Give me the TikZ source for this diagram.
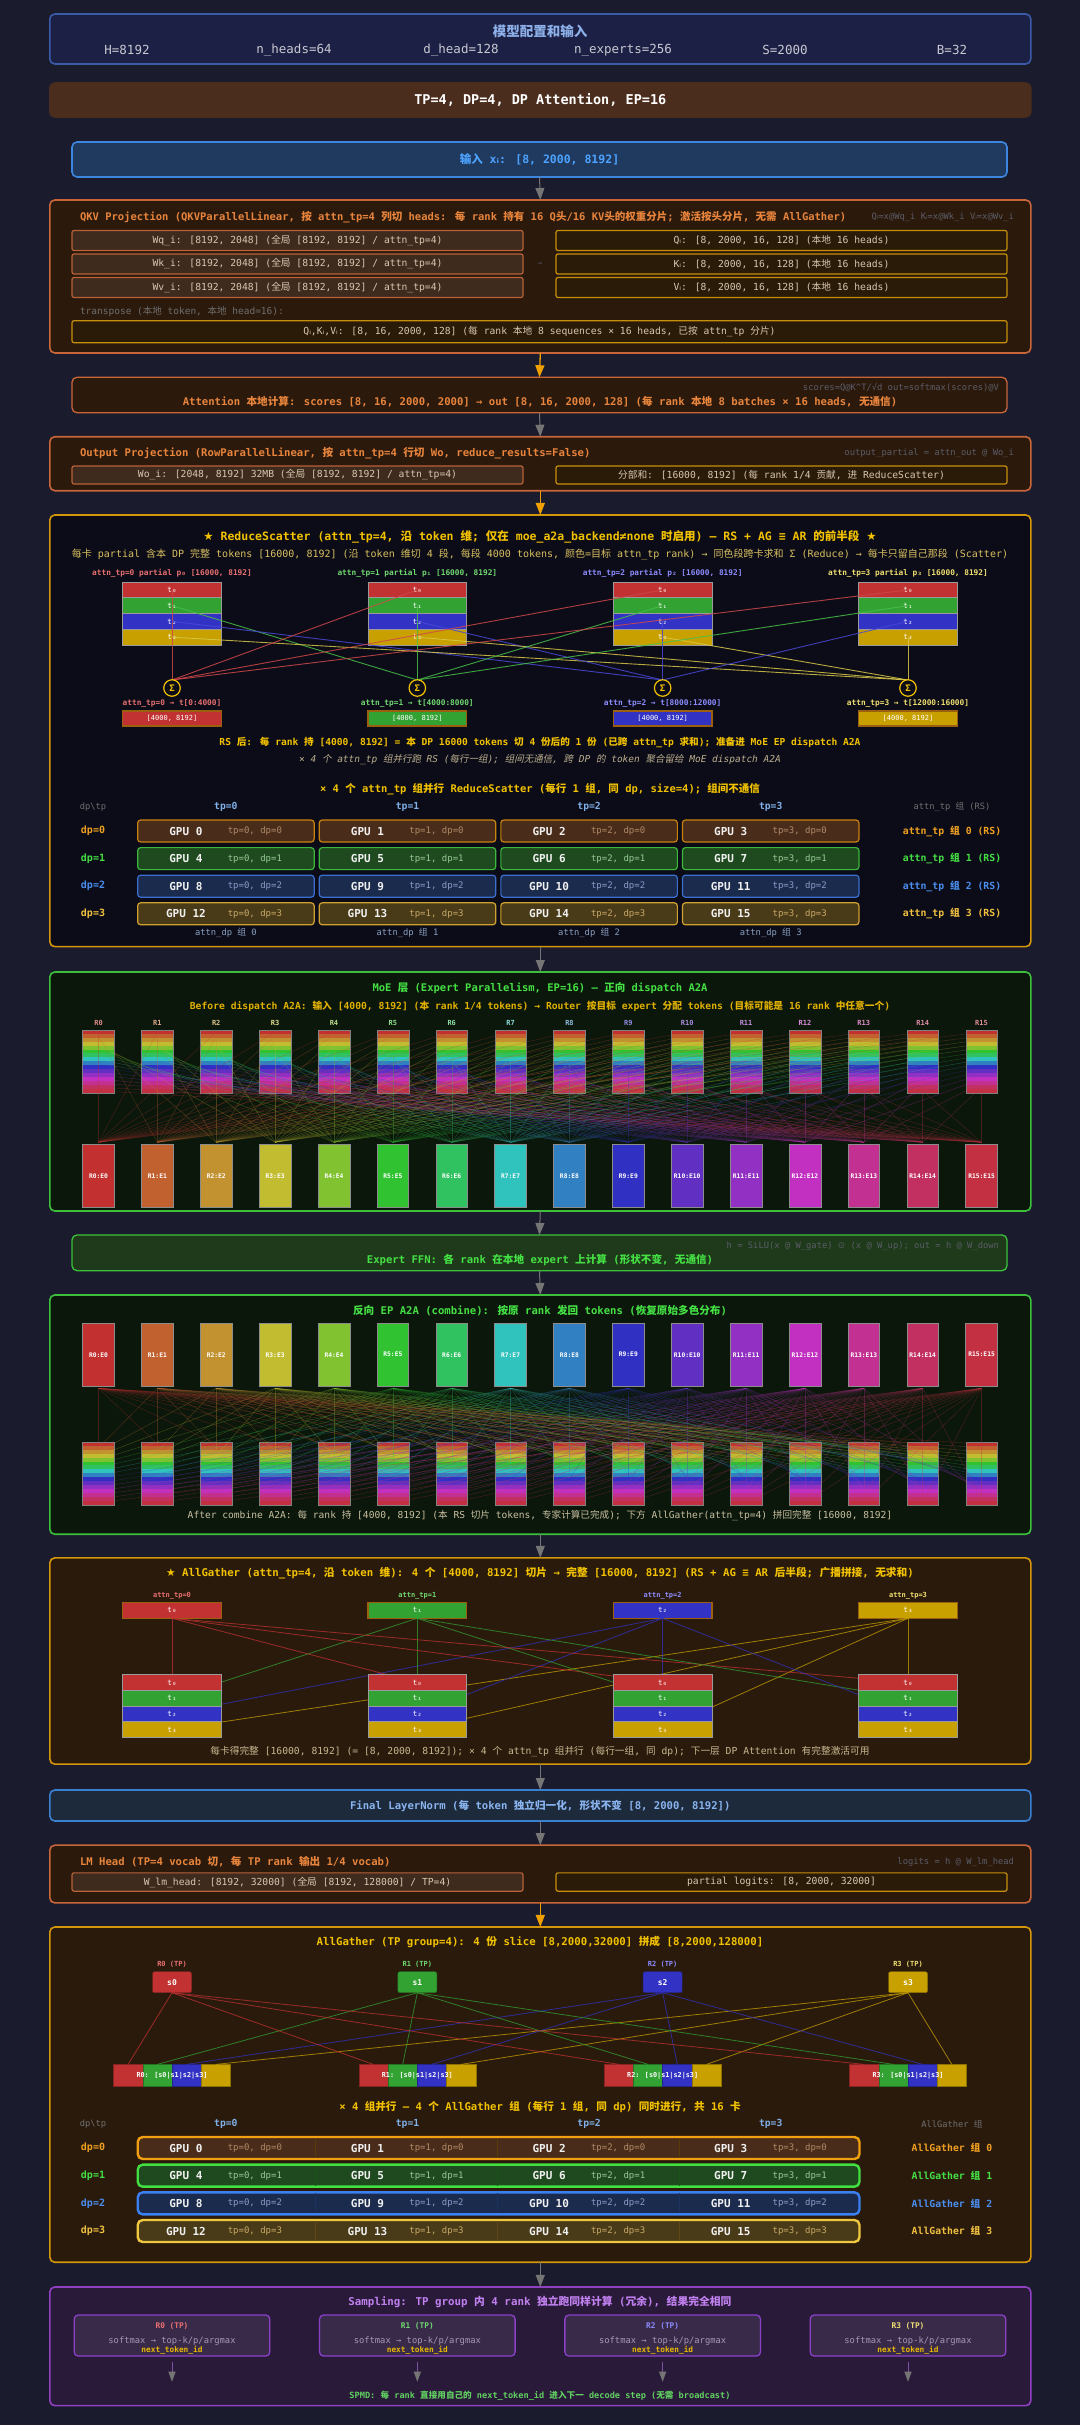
\documentclass[tikz,border=0pt]{standalone}
\usepackage{fontspec}
\setmainfont{DejaVu Sans Mono}
\newfontfamily\latf{DejaVu Sans Mono}
\newfontfamily\cjkf[ItalicFont={Noto Sans CJK SC},ItalicFeatures={FakeSlant=0.2}]{Noto Sans CJK SC}
\newfontfamily\symf{DejaVu Sans}
\usetikzlibrary{arrows.meta,calc,positioning}

% CJK runs switch to the CJK face
\makeatletter
\count@=0
\loop \XeTeXcharclass\count@=0 \advance\count@ 1 \ifnum\count@<"2E80 \repeat
\count@="2E80
\loop \XeTeXcharclass\count@=7 \advance\count@ 1 \ifnum\count@<"A000 \repeat
\count@="FF00
\loop \XeTeXcharclass\count@=7 \advance\count@ 1 \ifnum\count@<"FFF0 \repeat
\makeatother
\XeTeXinterchartokenstate=1
\XeTeXinterchartoks 0 7 = {\cjkf}
\XeTeXinterchartoks 4095 7 = {\cjkf}
\XeTeXinterchartoks 7 0 = {\latf}
\XeTeXinterchartoks 7 4095 = {\latf}

\newcommand\fsz[1]{\fontsize{#1}{#1}\selectfont}
\newcommand\sbi{{\symf ᵢ}}

\definecolor{bgc}{HTML}{1B1B2E}
\definecolor{cfgf}{HTML}{1C2044}
\definecolor{cfgd}{HTML}{3A5BA8}
\definecolor{cfgt}{HTML}{8DB0E8}
\definecolor{cfgp}{HTML}{C8C8D2}
\definecolor{stratf}{HTML}{4A2D1D}
\definecolor{inf}{HTML}{1F3A5E}
\definecolor{ind}{HTML}{3C86E0}
\definecolor{intx}{HTML}{4DA3FF}
\definecolor{brf}{HTML}{2B1A0C}
\definecolor{brd}{HTML}{C8663A}
\definecolor{brt}{HTML}{E8843C}
\definecolor{wf}{HTML}{3E2B1D}
\definecolor{wd}{HTML}{B8623A}
\definecolor{wt}{HTML}{D8C8B0}
\definecolor{af}{HTML}{2A1A08}
\definecolor{ad}{HTML}{C8900A}
\definecolor{hintc}{HTML}{5C5C68}
\definecolor{dimc}{HTML}{6E6E6E}
\definecolor{rsf}{HTML}{0C0C18}
\definecolor{rsd}{HTML}{D4960A}
\definecolor{goldt}{HTML}{F2C200}
\definecolor{subg}{HTML}{D8C060}
\definecolor{tp0}{HTML}{C23232}
\definecolor{tp1}{HTML}{32A232}
\definecolor{tp2}{HTML}{3232C4}
\definecolor{tp3}{HTML}{C8A000}
\definecolor{tpl0}{HTML}{E87070}
\definecolor{tpl1}{HTML}{70D870}
\definecolor{tpl2}{HTML}{8C8CFF}
\definecolor{tpl3}{HTML}{F0E070}
\definecolor{rsl0}{HTML}{D04848}
\definecolor{rsl1}{HTML}{48C048}
\definecolor{rsl2}{HTML}{4848D8}
\definecolor{rsl3}{HTML}{D8C848}
\definecolor{resd}{HTML}{9A6010}
\definecolor{segl}{HTML}{9A9A9A}
\definecolor{moef}{HTML}{0B170B}
\definecolor{moed}{HTML}{3CC03C}
\definecolor{moet}{HTML}{44E044}
\definecolor{moes}{HTML}{E0B000}
\definecolor{ffnf}{HTML}{1E3A1A}
\definecolor{agf}{HTML}{2A1A0C}
\definecolor{lnf}{HTML}{1C2A3C}
\definecolor{lnd}{HTML}{3A80D0}
\definecolor{lnt}{HTML}{8AB4F0}
\definecolor{smf}{HTML}{2A1A3A}
\definecolor{smd}{HTML}{9040C0}
\definecolor{smt}{HTML}{C080F0}
\definecolor{sbf}{HTML}{3A2A4A}
\definecolor{sbd}{HTML}{8A40C8}
\definecolor{sbt}{HTML}{A898B8}
\definecolor{nxt}{HTML}{E8B800}
\definecolor{spmd}{HTML}{60D060}
\definecolor{flowc}{HTML}{757575}
\definecolor{sflowc}{HTML}{8050A0}
\definecolor{arrg}{HTML}{F0A000}
\definecolor{tph}{HTML}{7FB0E8}
\definecolor{gridg}{HTML}{707070}
\definecolor{dpg}{HTML}{8AA0C0}
\definecolor{gput}{HTML}{F0F0F0}
\definecolor{cmbt}{HTML}{C8C0A0}
\definecolor{agt}{HTML}{C8B890}
% grid rows
\definecolor{rowf0}{HTML}{4A2C1A}
\definecolor{rowd0}{HTML}{C8820F}
\definecolor{rowl0}{HTML}{F0A020}
\definecolor{rows0}{HTML}{B08A68}
\definecolor{rowg0}{HTML}{F0A010}
\definecolor{rowf1}{HTML}{1F4A1F}
\definecolor{rowd1}{HTML}{3CB83C}
\definecolor{rowl1}{HTML}{44E044}
\definecolor{rows1}{HTML}{98C898}
\definecolor{rowg1}{HTML}{40E040}
\definecolor{rowf2}{HTML}{1B2B4D}
\definecolor{rowd2}{HTML}{3A6FCF}
\definecolor{rowl2}{HTML}{4A8FF0}
\definecolor{rows2}{HTML}{8A9CC8}
\definecolor{rowg2}{HTML}{3A80F0}
\definecolor{rowf3}{HTML}{4A3B18}
\definecolor{rowd3}{HTML}{D0A030}
\definecolor{rowl3}{HTML}{F0C040}
\definecolor{rows3}{HTML}{C8A868}
\definecolor{rowg3}{HTML}{F0C840}
% EP ranks
\definecolor{rk0}{HTML}{C23030}
\definecolor{rk1}{HTML}{C26130}
\definecolor{rk2}{HTML}{C29130}
\definecolor{rk3}{HTML}{C2BD30}
\definecolor{rk4}{HTML}{80C230}
\definecolor{rk5}{HTML}{30C230}
\definecolor{rk6}{HTML}{30C261}
\definecolor{rk7}{HTML}{30C2BD}
\definecolor{rk8}{HTML}{3080C2}
\definecolor{rk9}{HTML}{3030C2}
\definecolor{rk10}{HTML}{6130C2}
\definecolor{rk11}{HTML}{9130C2}
\definecolor{rk12}{HTML}{C230C2}
\definecolor{rk13}{HTML}{C23091}
\definecolor{rk14}{HTML}{C23061}
\definecolor{rk15}{HTML}{C23041}

\begin{document}
\begin{tikzpicture}[x=1pt,y=-1pt,
    every node/.style={inner sep=0pt,outer sep=0pt,text=white},
    panel/.style={rounded corners=5pt,line width=1.6pt,minimum width=981},
    wbox/.style={draw=wd,fill=wf,rounded corners=2pt,line width=1.2pt,minimum width=451,minimum height=20,text=wt,font=\fsz{9.7}},
    abox/.style={wbox,draw=ad,fill=af},
    hint/.style={anchor=east,font=\fsz{8.8},text=hintc},
    seg/.style={draw=segl,line width=0.8pt,minimum width=98.5,minimum height=15.75,text=white,font=\fsz{7.5}},
    sig/.style={circle,draw=goldt,fill=rsf,line width=1.2pt,minimum size=16.5,text=goldt,font=\fsz{9}\bfseries},
    cell/.style={rounded corners=3pt,line width=1.2pt,minimum width=176.5,minimum height=22},
    gpu/.style={font=\fsz{11}\bfseries,text=gput},
    stripe/.style={minimum width=31.7,minimum height=4.1},
    dcol/.style={draw=black!45,line width=0.5pt,minimum width=31.7,minimum height=63,text=white,font=\fsz{6.3}\bfseries},
    a2a/.style={line width=0.45pt,opacity=0.32},
    rsline/.style={line width=0.9pt,opacity=0.85},
    agline/.style={line width=0.8pt,opacity=0.75},
    flow/.style={draw=flowc,line width=1pt,-{Triangle[width=9pt,length=12pt]}},
    goldflow/.style={flow,draw=arrg,line width=1.3pt},
    sflow/.style={draw=sflowc,line width=0.9pt,-{Triangle[width=7pt,length=10pt,color=flowc]}}]

\useasboundingbox (0,0) rectangle (1080,2425);
\fill[bgc] (0,0) rectangle (1080,2425);

% Config
\node[panel,draw=cfgd,fill=cfgf,minimum height=50] (cfg) at (540.3,39) {};
\node[font=\fsz{13.5}\bfseries,text=cfgt] (cfgtitle) at (540,31) {模型配置和输入};
\foreach \px/\pt [count=\n] in {127/H=8192,294/n\_heads=64,461/d\_head=128,623/n\_experts=256,785/S=2000,952/B=32}
  \node[font=\fsz{12.5},text=cfgp] (prm-\n) at (\px,50) {\pt};

\node[panel,draw=stratf,fill=stratf,minimum height=34,font=\fsz{13.5}\bfseries] (strat) at (540.3,100) {TP=4, DP=4, DP Attention, EP=16};

% Input
\node[panel,draw=ind,fill=inf,minimum width=935,minimum height=35,font=\fsz{11.5}\bfseries,text=intx] (inp) at (539.5,159.5) {输入 x\sbi: [8, 2000, 8192]};

% QKV projection
\node[panel,draw=brd,fill=brf,minimum height=153] (qkv) at (540.3,276.5) {};
\node[anchor=west,font=\fsz{10.5}\bfseries,text=brt] (qkvt) at (80,217.5) {QKV Projection (QKVParallelLinear, 按 attn\_tp=4 列切 heads: 每 rank 持有 16 Q头/16 KV头的权重分片; 激活按头分片, 无需 AllGather)};
\node[hint] (qkvh) at (1014,217.5) {Q\sbi=x@Wq\_i K\sbi=x@Wk\_i V\sbi=x@Wv\_i};
\foreach \w/\q [count=\r from 0] in {q/Q,k/K,v/V}{
  \node[wbox] (w\w) at (297.5,{240.5+23.5*\r}) {W\w\_i: [8192, 2048] (全局 [8192, 8192] / attn\_tp=4)};
  \node[abox] (o\w) at (781.5,{240.5+23.5*\r}) {\q\sbi: [8, 2000, 16, 128] (本地 16 heads)};
}
\node[font=\fsz{7},text=hintc] (qkvar) at (540,263.5) {→};
\node[anchor=west,font=\fsz{9.5},text=dimc] (trn) at (80,311) {transpose (本地 token, 本地 head=16):};
\node[abox,minimum width=935,minimum height=22] (qkvo) at (539.5,331.7) {Q\sbi,K\sbi,V\sbi: [8, 16, 2000, 128] (每 rank 本地 8 sequences × 16 heads, 已按 attn\_tp 分片)};

% Attention
\node[panel,line width=1.3pt,draw=brd,fill=brf,minimum width=935,minimum height=35.5] (attn) at (539.5,395) {};
\node[hint] (attnh) at (999,388) {scores=Q@K\textasciicircum T/√d out=softmax(scores)@V};
\node[font=\fsz{10.6}\bfseries,text=brt] (attnt) at (540,402) {Attention 本地计算: scores [8, 16, 2000, 2000] → out [8, 16, 2000, 128] (每 rank 本地 8 batches × 16 heads, 无通信)};

% Output projection
\node[panel,draw=brd,fill=brf,minimum height=54] (oproj) at (540.3,463.7) {};
\node[anchor=west,font=\fsz{10.6}\bfseries,text=brt] (oprojt) at (80,452.7) {Output Projection (RowParallelLinear, 按 attn\_tp=4 行切 Wo, reduce\_results=False)};
\node[hint] (oprojh) at (1014,453) {output\_partial = attn\_out @ Wo\_i};
\node[wbox,minimum height=18] (wo) at (297.5,475) {Wo\_i: [2048, 8192] 32MB (全局 [8192, 8192] / attn\_tp=4)};
\node[abox,minimum height=18] (psum) at (781.5,475) {分部和: [16000, 8192] (每 rank 1/4 贡献, 进 ReduceScatter)};

% ReduceScatter
\node[panel,draw=rsd,fill=rsf,minimum height=431.7] (rs) at (540.3,730.8) {};
\node[font=\fsz{11.5}\bfseries,text=goldt] (rst) at (540,537) {{\symf ★} ReduceScatter (attn\_tp=4, 沿 token 维; 仅在 moe\_a2a\_backend≠none 时启用) — RS + AG ≡ AR 的前半段 {\symf ★}};
\node[font=\fsz{10},text=subg] (rss) at (540,554) {每卡 partial 含本 DP 完整 tokens [16000, 8192] (沿 token 维切 4 段, 每段 4000 tokens, 颜色=目标 attn\_tp rank) → 同色段跨卡求和 Σ (Reduce) → 每卡只留自己那段 (Scatter)};
\foreach \i/\s/\rg in {0/₀/0:4000,1/₁/4000:8000,2/₂/8000:12000,3/₃/12000:16000}{
  \pgfmathsetmacro\cx{172+245.33*\i}
  \node[font=\fsz{7.8}\bfseries,text=tpl\i] (rpl-\i) at (\cx,573.7) {attn\_tp=\i{} partial p\s{} [16000, 8192]};
  \foreach \j/\t in {0/₀,1/₁,2/₂,3/₃}
    \node[seg,fill=tp\j] (rp-\i-\j) at (\cx,{589.9+15.75*\j}) {t\t};
  \node[font=\fsz{7.8}\bfseries,text=tpl\i] (sgl-\i) at (\cx,703) {attn\_tp=\i{} → t[\rg]};
  \node[seg,draw=resd,line width=1.2pt,fill=tp\i,minimum height=15,font=\fsz{7}] (rsr-\i) at (\cx,718.5) {[4000, 8192]};
}
\foreach \i in {0,...,3}{
  \pgfmathsetmacro\cx{172+245.33*\i}
  \coordinate (sgp-\i) at (\cx,688);
}
\foreach \i in {0,...,3}
  \foreach \j in {0,...,3}
    \draw[rsline,draw=rsl\j] (rp-\i-\j.center) -- ([yshift=8pt]sgp-\j);
\foreach \i in {0,...,3}
  \node[sig] (sg-\i) at (sgp-\i) {Σ};
\node[font=\fsz{9.6}\bfseries,text=goldt] (rsa) at (540,742.7) {RS 后: 每 rank 持 [4000, 8192] = 本 DP 16000 tokens 切 4 份后的 1 份 (已跨 attn\_tp 求和); 准备进 MoE EP dispatch A2A};
\node[font=\fsz{9.5}\itshape,text=agt!85!gray] (rsb) at (540,759.7) {× 4 个 attn\_tp 组并行跑 RS (每行一组); 组间无通信, 跨 DP 的 token 聚合留给 MoE dispatch A2A};
\node[font=\fsz{10.5}\bfseries,text=goldt] (rsg) at (540,788.7) {× 4 个 attn\_tp 组并行 ReduceScatter (每行 1 组, 同 dp, size=4); 组间不通信};
% RS grid
\node[font=\fsz{8.7},text=gridg] (rh) at (93,807) {dp\textbackslash tp};
\foreach \cl in {0,...,3}
  \node[font=\fsz{9.7}\bfseries,text=tph] (rht-\cl) at ({225.9+181.6*\cl},807) {tp=\cl};
\node[font=\fsz{8.7},text=gridg] (rhr) at (952,807) {attn\_tp 组 (RS)};
\foreach \rw in {0,...,3}{
  \pgfmathsetmacro\ry{831+27.6*\rw}
  \node[font=\fsz{10}\bfseries,text=rowl\rw] (rdp-\rw) at (93,\ry) {dp=\rw};
  \node[font=\fsz{9.8}\bfseries,text=rowl\rw] (rtg-\rw) at (952,\ry) {attn\_tp 组 \rw{} (RS)};
  \foreach \cl in {0,...,3}{
    \pgfmathtruncatemacro\gn{4*\rw+\cl}
    \node[cell,draw=rowd\rw,fill=rowf\rw] (rg-\rw-\cl) at ({225.9+181.6*\cl},\ry) {};
    \node[gpu] (rgl-\rw-\cl) at ([xshift=-40pt]rg-\rw-\cl.center) {GPU \gn};
    \node[font=\fsz{9},text=rows\rw] (rgs-\rw-\cl) at ([xshift=29pt]rg-\rw-\cl.center) {tp=\cl, dp=\rw};
  }
}
\foreach \cl in {0,...,3}
  \node[font=\fsz{8.8},text=dpg] (rdg-\cl) at ({225.9+181.6*\cl},932.7) {attn\_dp 组 \cl};

% MoE dispatch
\node[panel,draw=moed,fill=moef,minimum height=239] (moe) at (540.3,1091.5) {};
\node[font=\fsz{10.5}\bfseries,text=moet] (moet) at (540,988) {MoE 层 (Expert Parallelism, EP=16) — 正向 dispatch A2A};
\node[font=\fsz{9.7}\bfseries,text=moes] (moes) at (540,1006.7) {Before dispatch A2A: 输入 [4000, 8192] (本 rank 1/4 tokens) → Router 按目标 expert 分配 tokens (目标可能是 16 rank 中任意一个)};
\foreach \i in {0,...,15}{
  \pgfmathsetmacro\cx{98.5+58.87*\i}
  \node[font=\fsz{7}\bfseries,text=rk\i!55!white] (ml-\i) at (\cx,1022.7) {R\i};
  \foreach \j in {0,...,15}
    \node[stripe,fill=rk\j] (ms-\i-\j) at (\cx,{1030+3.92*(\j+0.5)}) {};
  \draw[black!50,line width=0.4pt] (ms-\i-0.north west) rectangle (ms-\i-15.south east);
  \node[dcol,fill=rk\i] (md-\i) at (\cx,1175.8) {R\i:E\i};
}
\foreach \i in {0,...,15}
  \foreach \j in {0,...,15}
    \draw[a2a,draw=rk\j] (ms-\i-\j.center) -- ([yshift=2pt]md-\j.north);

% Expert FFN
\node[panel,line width=1.3pt,draw=moed,fill=ffnf,minimum width=935,minimum height=35.7] (ffn) at (539.5,1252.8) {};
\node[hint] (ffnh) at (999,1245.7) {h = SiLU(x @ W\_gate) {\symf ⊙} (x @ W\_up); out = h @ W\_down};
\node[font=\fsz{10.6}\bfseries,text=moet] (ffnt) at (540,1260.3) {Expert FFN: 各 rank 在本地 expert 上计算 (形状不变, 无通信)};

% Combine
\node[panel,draw=moed,fill=moef,minimum height=239.3] (comb) at (540.3,1414.6) {};
\node[font=\fsz{10.6}\bfseries,text=moet] (combt) at (540,1311) {反向 EP A2A (combine): 按原 rank 发回 tokens (恢复原始多色分布)};
\foreach \i in {0,...,15}{
  \pgfmathsetmacro\cx{98.5+58.87*\i}
  \node[dcol,fill=rk\i] (cs-\i) at (\cx,1354.7) {R\i:E\i};
  \foreach \j in {0,...,15}
    \node[stripe,fill=rk\j] (cb-\i-\j) at (\cx,{1442+3.92*(\j+0.5)}) {};
  \draw[black!50,line width=0.4pt] (cb-\i-0.north west) rectangle (cb-\i-15.south east);
}
\foreach \i in {0,...,15}
  \foreach \j in {0,...,15}
    \draw[a2a,draw=rk\j] ([yshift=-2pt]cs-\j.south) -- (cb-\i-\j.center);
\node[font=\fsz{9.6},text=cmbt] (combn) at (540,1515.7) {After combine A2A: 每 rank 持 [4000, 8192] (本 RS 切片 tokens, 专家计算已完成); 下方 AllGather(attn\_tp=4) 拼回完整 [16000, 8192]};

% AllGather (attn_tp)
\node[panel,draw=rsd,fill=agf,minimum height=206.3] (ag) at (540.3,1661) {};
\node[font=\fsz{10.7}\bfseries,text=goldt] (agtl) at (540,1573.3) {{\symf ★} AllGather (attn\_tp=4, 沿 token 维): 4 个 [4000, 8192] 切片 → 完整 [16000, 8192] (RS + AG ≡ AR 后半段; 广播拼接, 无求和)};
\foreach \i/\s in {0/₀,1/₁,2/₂,3/₃}{
  \pgfmathsetmacro\cx{172+245.33*\i}
  \node[font=\fsz{7}\bfseries,text=tpl\i] (agl-\i) at (\cx,1596) {attn\_tp=\i};
  \node[seg,draw=resd,line width=1.2pt,fill=tp\i,minimum height=16] (ags-\i) at (\cx,1610.3) {t\s};
  \foreach \j in {0,...,3}
    \coordinate (agc-\i-\j) at (\cx,{1674.7+15.65*(\j+0.5)});
}
\foreach \i in {0,...,3}
  \foreach \j in {0,...,3}
    \draw[agline,draw=tp\j] (ags-\j.south) -- (agc-\i-\j);
\foreach \i in {0,...,3}
  \foreach \j/\t in {0/₀,1/₁,2/₂,3/₃}
    \node[seg,fill=tp\j,minimum height=15.65] (agd-\i-\j) at (agc-\i-\j) {t\t};
\node[font=\fsz{9.7},text=agt] (agn) at (540,1752) {每卡得完整 [16000, 8192] (= [8, 2000, 8192]); × 4 个 attn\_tp 组并行 (每行一组, 同 dp); 下一层 DP Attention 有完整激活可用};

% Final LayerNorm
\node[panel,draw=lnd,fill=lnf,minimum height=31,font=\fsz{10.6}\bfseries,text=lnt] (ln) at (540.3,1805.5) {Final LayerNorm (每 token 独立归一化, 形状不变 [8, 2000, 8192])};

% LM head
\node[panel,draw=brd,fill=brf,minimum height=57.7] (lm) at (540.3,1874) {};
\node[anchor=west,font=\fsz{10.6}\bfseries,text=brt] (lmt) at (80,1862) {LM Head (TP=4 vocab 切, 每 TP rank 输出 1/4 vocab)};
\node[hint] (lmh) at (1014,1862) {logits = h @ W\_lm\_head};
\node[wbox,minimum height=18.3] (wlm) at (297.5,1882) {W\_lm\_head: [8192, 32000] (全局 [8192, 128000] / TP=4)};
\node[abox,minimum height=18.3] (plog) at (781.5,1882) {partial logits: [8, 2000, 32000]};

% AllGather (TP group)
\node[panel,draw=rsd,fill=agf,minimum height=335.3] (agtp) at (540.3,2094.6) {};
\node[font=\fsz{10.7}\bfseries,text=goldt] (agtpt) at (540,1941.7) {AllGather (TP group=4): 4 份 slice [8,2000,32000] 拼成 [8,2000,128000]};
\foreach \i in {0,...,3}{
  \pgfmathsetmacro\cx{172+245.33*\i}
  \node[font=\fsz{7}\bfseries,text=tpl\i] (tl-\i) at (\cx,1964) {R\i{} (TP)};
  \node[draw=tp\i!70!black,fill=tp\i,rounded corners=2pt,minimum width=39,minimum height=21,font=\fsz{8}\bfseries] (ts-\i) at (\cx,1982.2) {s\i};
  \foreach \j in {0,...,3}
    \node[draw=tp\j!70!black,fill=tp\j,minimum width=29.25,minimum height=21.7] (td-\i-\j) at ({\cx-43.875+29.25*\j},2075.2) {};
  \node[font=\fsz{6.8}\bfseries] (tdl-\i) at (\cx,2075.2) {R\i: [s0|s1|s2|s3]};
}
\foreach \i in {0,...,3}
  \foreach \j in {0,...,3}
    \draw[agline,draw=tp\j] (ts-\j.south) -- (td-\i-\j.north);
\node[font=\fsz{10.6}\bfseries,text=goldt] (agtpg) at (540,2106.7) {× 4 组并行 — 4 个 AllGather 组 (每行 1 组, 同 dp) 同时进行, 共 16 卡};
\node[font=\fsz{8.7},text=gridg] (ah) at (93,2124.3) {dp\textbackslash tp};
\foreach \cl in {0,...,3}
  \node[font=\fsz{9.7}\bfseries,text=tph] (aht-\cl) at ({225.9+181.6*\cl},2124.3) {tp=\cl};
\node[font=\fsz{8.7},text=gridg] (ahr) at (952,2124.3) {AllGather 组};
\foreach \rw in {0,...,3}{
  \pgfmathsetmacro\ry{2148+27.67*\rw}
  \node[font=\fsz{10}\bfseries,text=rowl\rw] (adp-\rw) at (93,\ry) {dp=\rw};
  \node[rounded corners=5pt,line width=2.4pt,draw=rowg\rw,fill=rowf\rw,minimum width=721.8,minimum height=22] (agr-\rw) at (498.6,\ry) {};
  \foreach \x in {315.4,497,679}
    \draw[rowd\rw!45!black,line width=0.8pt] (\x,\ry-10) -- (\x,\ry+10);
  \foreach \cl in {0,...,3}{
    \pgfmathtruncatemacro\gn{4*\rw+\cl}
    \node[gpu] (agl-\rw-\cl) at ({225.9+181.6*\cl-40},\ry) {GPU \gn};
    \node[font=\fsz{9},text=rows\rw] (ags-\rw-\cl) at ({225.9+181.6*\cl+29},\ry) {tp=\cl, dp=\rw};
  }
  \node[font=\fsz{9.8}\bfseries,text=rowl\rw] (agg-\rw) at (952,\ry) {AllGather 组 \rw};
}

% Sampling
\node[panel,draw=smd,fill=smf,minimum height=118.7] (samp) at (540.3,2346.3) {};
\node[font=\fsz{10.8}\bfseries,text=smt] (sampt) at (540,2301.7) {Sampling: TP group 内 4 rank 独立跑同样计算 (冗余), 结果完全相同};
\foreach \i in {0,...,3}{
  \pgfmathsetmacro\cx{172+245.33*\i}
  \node[draw=sbd,fill=sbf,rounded corners=4pt,line width=1.3pt,minimum width=195.6,minimum height=41] (sb-\i) at (\cx,2335.5) {};
  \node[font=\fsz{7.8}\bfseries,text=tpl\i] (sbl-\i) at (\cx,2326) {R\i{} (TP)};
  \node[font=\fsz{8.8},text=sbt] (sbs-\i) at (\cx,2340.7) {softmax → top-k/p/argmax};
  \node[font=\fsz{7.8}\bfseries,text=nxt] (sbn-\i) at (\cx,2350.7) {next\_token\_id};
  \coordinate (se-\i) at (\cx,2381.7);
  \draw[sflow] ([yshift=-5.7pt]sb-\i.south) -- (se-\i);
}
\node[font=\fsz{8.6}\bfseries,text=spmd] (spmd) at (540,2395.7) {SPMD: 每 rank 直接用自己的 next\_token\_id 进入下一 decode step (无需 broadcast)};

% Flow
\draw[flow] (inp.south) -- (qkv.north);
\draw[goldflow] (qkv.south) -- (attn.north);
\draw[flow] (attn.south) -- (oproj.north);
\draw[goldflow] (oproj.south) -- (rs.north);
\draw[flow] (rs.south) -- (moe.north);
\draw[flow] (moe.south) -- (ffn.north);
\draw[flow] (ffn.south) -- (comb.north);
\draw[flow] (comb.south) -- (ag.north);
\draw[flow] (ag.south) -- (ln.north);
\draw[flow] (ln.south) -- (lm.north);
\draw[goldflow] (lm.south) -- (agtp.north);
\draw[flow] (agtp.south) -- (samp.north);

\end{tikzpicture}
\end{document}
